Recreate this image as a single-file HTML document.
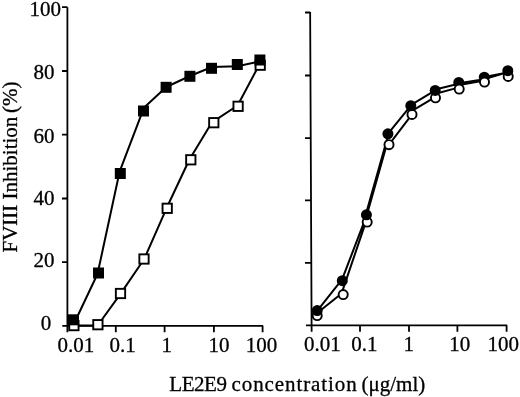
<!DOCTYPE html>
<html><head><meta charset="utf-8"><style>
html,body{margin:0;padding:0;background:#fff;width:520px;height:397px;overflow:hidden}
svg{display:block;filter:grayscale(1)}
text{font-family:"Liberation Serif",serif;font-size:21px;fill:#000;stroke:#000;stroke-width:0.3px}
</style></head><body>
<svg width="520" height="397" viewBox="0 0 520 397">
<rect width="520" height="397" fill="#fff"/>
<path d="M67.4,7.2 V332.3 M62,262.2 H67.4 M62,198.5 H67.4 M62,134.7 H67.4 M62,71.0 H67.4 M62,7.2 H67.4 M62.3,325.9 H263.2 M115.8,325.9 V332.3  M164.6,325.9 V332.3  M213.9,325.9 V332.3  M262.6,325.9 V332.3" stroke="#000" stroke-width="1.8" fill="none"/>
<path d="M310.15,12.0 L311.62,331.8 M305,262.8 H311.30 M305,200.4 H311.02 M305,138.1 H310.73 M305,75.5 H310.44 M305,12.5 H310.15 M306,325.3 H507.2 M360,325.3 V331.8  M409,325.3 V331.8  M457.4,325.3 V331.8  M506.6,325.3 V331.8" stroke="#000" stroke-width="1.8" fill="none"/>
<polyline points="73.5,325.5 97.65,325.5 120.5,293.9 144.2,259 166.5,208.3 189.3,159.8 212,122.3 237.6,105.5 259,65.2" stroke="#000" stroke-width="2.0" fill="none" stroke-linejoin="round"/>
<rect x="69.25" y="320.95" width="9.30" height="9.30" fill="#fff" stroke="#000" stroke-width="1.9"/>
<rect x="93.25" y="320.05" width="9.30" height="9.30" fill="#fff" stroke="#000" stroke-width="1.9"/>
<rect x="115.85" y="288.85" width="9.30" height="9.30" fill="#fff" stroke="#000" stroke-width="1.9"/>
<rect x="139.35" y="254.35" width="9.30" height="9.30" fill="#fff" stroke="#000" stroke-width="1.9"/>
<rect x="162.55" y="203.65" width="9.30" height="9.30" fill="#fff" stroke="#000" stroke-width="1.9"/>
<rect x="186.15" y="155.15" width="9.30" height="9.30" fill="#fff" stroke="#000" stroke-width="1.9"/>
<rect x="209.15" y="118.05" width="9.30" height="9.30" fill="#fff" stroke="#000" stroke-width="1.9"/>
<rect x="233.45" y="101.65" width="9.30" height="9.30" fill="#fff" stroke="#000" stroke-width="1.9"/>
<rect x="255.55" y="60.55" width="9.30" height="9.30" fill="#fff" stroke="#000" stroke-width="1.9"/>
<polyline points="75.6,320.2 97.5,274 119.7,171.3 143.9,107.8 166.3,87 189.9,76 212,67 237.4,66.2 259.9,61.5" stroke="#000" stroke-width="2.0" fill="none" stroke-linejoin="round"/>
<rect x="68.00" y="314.30" width="11.0" height="11.0" fill="#000"/>
<rect x="93.00" y="267.50" width="11.0" height="11.0" fill="#000"/>
<rect x="114.80" y="168.00" width="11.0" height="11.0" fill="#000"/>
<rect x="138.00" y="105.50" width="11.0" height="11.0" fill="#000"/>
<rect x="160.60" y="81.80" width="11.0" height="11.0" fill="#000"/>
<rect x="184.40" y="70.80" width="11.0" height="11.0" fill="#000"/>
<rect x="206.00" y="62.80" width="11.0" height="11.0" fill="#000"/>
<rect x="231.80" y="59.00" width="11.0" height="11.0" fill="#000"/>
<rect x="254.40" y="54.50" width="11.0" height="11.0" fill="#000"/>
<path d="M317.20,312.91 L343.20,292.28 M341.18,294.60 L365.81,222.10 M364.87,222.10 L386.72,144.70 M389.00,144.70 L412.00,114.40 M412.00,110.93 L435.50,96.87 M435.50,93.73 L459.20,87.35 M459.20,84.90 L484.50,80.53 M484.50,78.96 L508.20,72.13 M317.20,310.79 L342.30,279.12 M341.64,280.70 L366.85,214.80 M365.73,214.80 L388.60,133.80 M387.90,133.80 L410.80,105.70 M410.80,105.05 L435.20,90.45 M435.20,89.44 L458.80,83.81 M458.80,83.29 L484.30,79.24 M484.30,77.05 L507.80,72.39" stroke="#000" stroke-width="2.0" fill="none" stroke-linecap="round"/>
<circle cx="458.8" cy="82.4" r="5.5" fill="#000"/>
<circle cx="484.3" cy="77.2" r="5.5" fill="#000"/>
<circle cx="317.2" cy="315.6" r="4.55" fill="#fff" stroke="#000" stroke-width="1.9"/>
<circle cx="343.2" cy="294.6" r="4.55" fill="#fff" stroke="#000" stroke-width="1.9"/>
<circle cx="367.2" cy="222.1" r="4.55" fill="#fff" stroke="#000" stroke-width="1.9"/>
<circle cx="389" cy="144.7" r="4.55" fill="#fff" stroke="#000" stroke-width="1.9"/>
<circle cx="412" cy="114.4" r="4.55" fill="#fff" stroke="#000" stroke-width="1.9"/>
<circle cx="435.5" cy="97.8" r="4.55" fill="#fff" stroke="#000" stroke-width="1.9"/>
<circle cx="459.2" cy="89.1" r="4.55" fill="#fff" stroke="#000" stroke-width="1.9"/>
<circle cx="484.5" cy="82.1" r="4.55" fill="#fff" stroke="#000" stroke-width="1.9"/>
<circle cx="508.2" cy="76.4" r="4.55" fill="#fff" stroke="#000" stroke-width="1.9"/>
<circle cx="317.2" cy="310.6" r="5.5" fill="#000"/>
<circle cx="342.3" cy="280.7" r="5.5" fill="#000"/>
<circle cx="366.4" cy="214.8" r="5.5" fill="#000"/>
<circle cx="387.9" cy="133.8" r="5.5" fill="#000"/>
<circle cx="410.8" cy="105.7" r="5.5" fill="#000"/>
<circle cx="435.2" cy="90.4" r="5.5" fill="#000"/>
<circle cx="507.8" cy="70.7" r="5.5" fill="#000"/>
<text x="61.0" y="16.0" text-anchor="end">100</text>
<text x="54.5" y="78.6" text-anchor="end">80</text>
<text x="54.5" y="142.5" text-anchor="end">60</text>
<text x="54.5" y="204.5" text-anchor="end">40</text>
<text x="54.5" y="267.3" text-anchor="end">20</text>
<text x="51.2" y="330.0" text-anchor="end">0</text>
<text x="57.4" y="352.4" text-anchor="start">0.01</text>
<text x="109.5" y="352.4" text-anchor="start">0.1</text>
<text x="161.5" y="352.4" text-anchor="start">1</text>
<text x="208.5" y="352.4" text-anchor="start">10</text>
<text x="245.8" y="352.4" text-anchor="start">100</text>
<text x="304.1" y="350.9" text-anchor="start">0.01</text>
<text x="351.2" y="350.9" text-anchor="start">0.1</text>
<text x="403.5" y="350.9" text-anchor="start">1</text>
<text x="449.2" y="350.9" text-anchor="start">10</text>
<text x="487.6" y="350.9" text-anchor="start">100</text>
<text x="169.3" y="391.2" text-anchor="start" textLength="57.7" lengthAdjust="spacing">LE2E9</text>
<text x="231.6" y="391.2" text-anchor="start" textLength="125.1" lengthAdjust="spacing">concentration</text>
<text x="361.5" y="391.2" text-anchor="start">(&#956;g/ml)</text>
<text transform="translate(17.2,252.5) rotate(-90)" x="0" y="0">FVIII</text>
<text transform="translate(17.2,199.5) rotate(-90)" x="0" y="0">Inhibition</text>
<text transform="translate(17.2,113.0) rotate(-90)" x="0" y="0">(%)</text>
</svg>
</body></html>
